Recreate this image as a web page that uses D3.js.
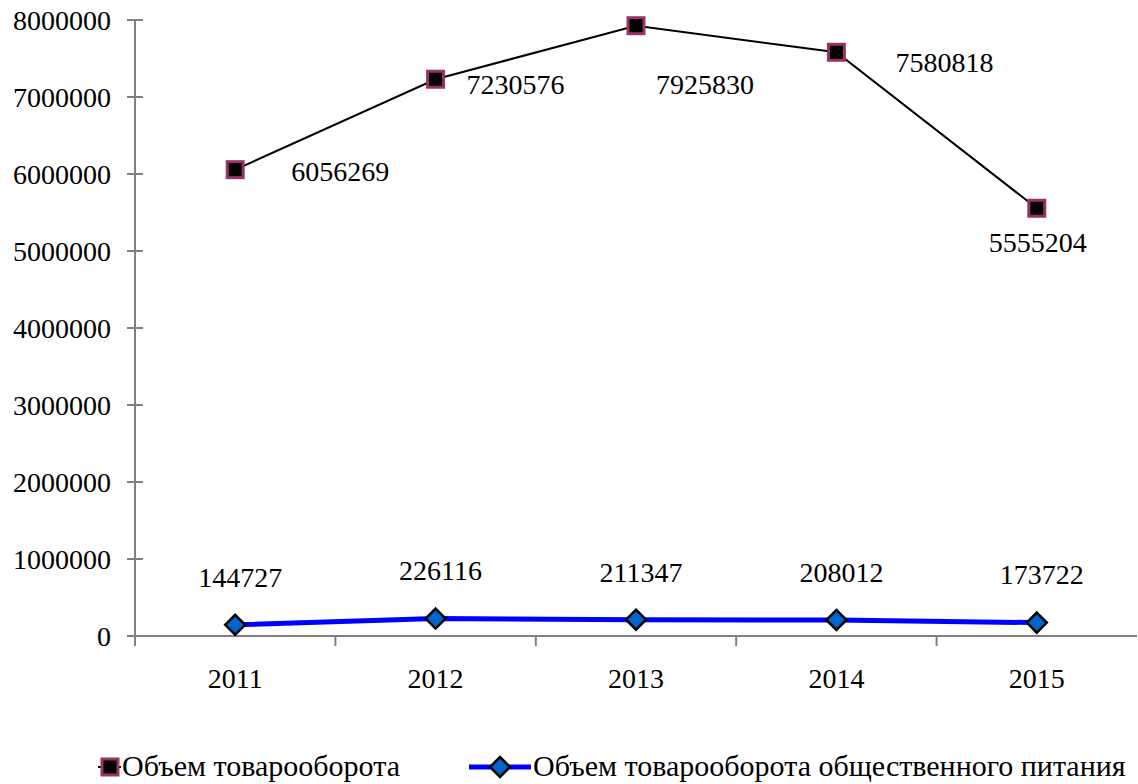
<!DOCTYPE html>
<html><head><meta charset="utf-8">
<script src="https://cdn.jsdelivr.net/npm/d3@7"></script>
<style>body{margin:0;background:#fff}svg{display:block}</style>
</head><body><svg id="c" width="1138" height="784" font-family="'Liberation Serif', 'Times New Roman', Tinos, 'Nimbus Roman', 'DejaVu Serif', serif"></svg>
<script>
const years = ["2011","2012","2013","2014","2015"];
const turnover = [6056269,7230576,7925830,7580818,5555204];
const catering = [144727,226116,211347,208012,173722];
const yTicks = [0,1000000,2000000,3000000,4000000,5000000,6000000,7000000,8000000];
const seriesNames = ["Объем товарооборота","Объем товарооборота общественного питания"];

const svg = d3.select("#c");
const FS = 28;
const x = d3.scaleBand().domain(years).range([135,1137]).padding(0);
const y = d3.scaleLinear().domain([0,8000000]).range([636,20]);
const cx = d => x(d) + x.bandwidth()/2;

// y axis
svg.append("line").attr("x1",135).attr("x2",135).attr("y1",y(8000000)).attr("y2",y(0)).attr("stroke","#808080").attr("stroke-width",2);
yTicks.forEach(t=>{
  svg.append("line").attr("x1",127).attr("x2",143).attr("y1",y(t)).attr("y2",y(t)).attr("stroke","#808080").attr("stroke-width",2);
  svg.append("text").attr("x",111).attr("y",y(t)).attr("dy","0.35em").attr("text-anchor","end").attr("font-size",FS).text(t);
});
// x axis
svg.append("line").attr("x1",135).attr("x2",1137).attr("y1",y(0)).attr("y2",y(0)).attr("stroke","#808080").attr("stroke-width",2);
years.forEach((yr,i)=>{
  const bx = x(yr);
  svg.append("line").attr("x1",bx).attr("x2",bx).attr("y1",y(0)).attr("y2",y(0)+10).attr("stroke","#808080").attr("stroke-width",2);
  svg.append("text").attr("x",cx(yr)).attr("y",y(0)+52).attr("text-anchor","middle").attr("font-size",FS).text(yr);
});

const line = d3.line().x((d,i)=>cx(years[i])).y(d=>y(d));
svg.append("path").datum(turnover).attr("d",line).attr("fill","none").attr("stroke","#000").attr("stroke-width",2);
svg.append("path").datum(catering).attr("d",line).attr("fill","none").attr("stroke","#0000ff").attr("stroke-width",5);

function square(g,px,py){
  g.append("rect").attr("x",px-8).attr("y",py-8).attr("width",16).attr("height",16).attr("fill","#000").attr("stroke","#993366").attr("stroke-width",3);
}
function diamond(g,px,py){
  g.append("path").attr("d",`M${px},${py-10}L${px+10},${py}L${px},${py+10}L${px-10},${py}Z`).attr("fill","#0066cc").attr("stroke","#000").attr("stroke-width",2.5);
}
turnover.forEach((v,i)=>square(svg,cx(years[i]),y(v)));
catering.forEach((v,i)=>diamond(svg,cx(years[i]),y(v)));

// labels (offsets from their points)
const tOff = [[105,2],[80,5],[69,58],[108,10],[1,34]];
turnover.forEach((v,i)=>{
  svg.append("text").attr("x",cx(years[i])+tOff[i][0]).attr("y",y(v)+tOff[i][1]).attr("dy","0.35em").attr("text-anchor","middle").attr("font-size",FS).text(v);
});
catering.forEach((v,i)=>{
  svg.append("text").attr("x",cx(years[i])+5).attr("y",y(v)-48).attr("dy","0.35em").attr("text-anchor","middle").attr("font-size",FS).text(v);
});

// legend
const ly = 767;
svg.append("line").attr("x1",98).attr("x2",121).attr("y1",ly).attr("y2",ly).attr("stroke","#000").attr("stroke-width",2);
square(svg,110,ly);
svg.append("text").attr("x",122).attr("y",776).attr("font-size",30).text(seriesNames[0]);
svg.append("line").attr("x1",469).attr("x2",531).attr("y1",ly).attr("y2",ly).attr("stroke","#0000ff").attr("stroke-width",5);
diamond(svg,500,ly);
svg.append("text").attr("x",533).attr("y",776).attr("font-size",30).text(seriesNames[1]);
</script></body></html>
